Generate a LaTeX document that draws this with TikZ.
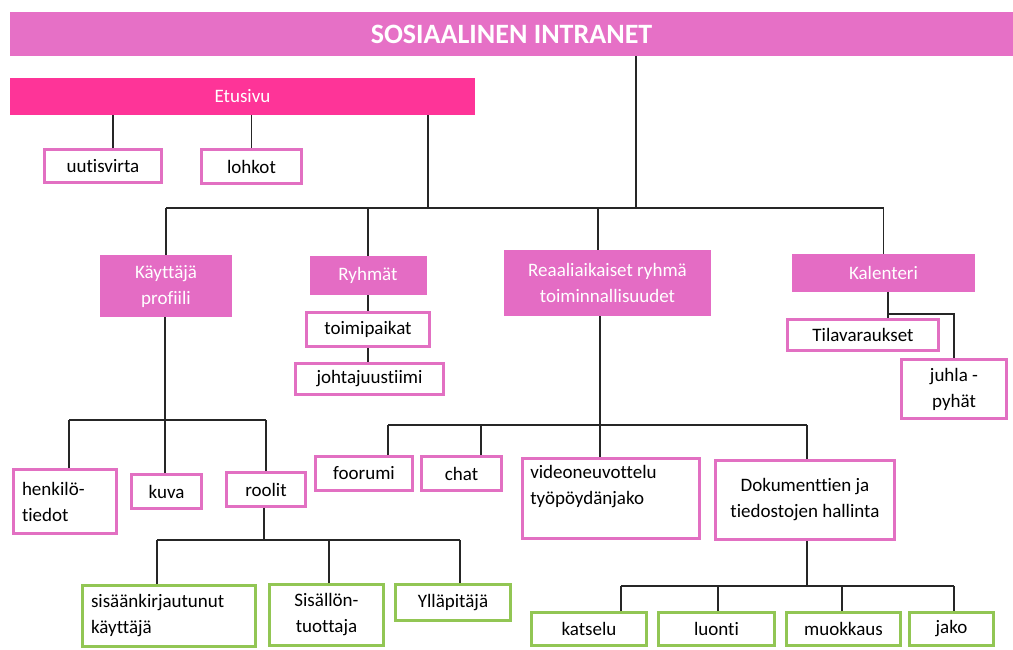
\documentclass[tikz,border=0pt]{standalone}
\usepackage{fontspec}
\setmainfont{Carlito}[Ligatures=NoCommon]
\usepackage{tikz}
\usetikzlibrary{positioning}
\definecolor{iTitle}{RGB}{230,112,198}
\definecolor{iHot}{RGB}{254,52,152}
\definecolor{iFill}{RGB}{228,108,196}
\definecolor{iLine}{RGB}{226,112,194}
\definecolor{iGreen}{RGB}{146,198,84}
\tikzset{
  head/.style={rectangle, fill=iTitle, text=white, font=\fontsize{28}{31}\selectfont\bfseries,
               inner sep=0pt},
  topbar/.style={rectangle, fill=iHot, text=white, font=\fontsize{19}{22}\selectfont,
                 inner sep=0pt},
  pbox/.style={rectangle, fill=iFill, text=white, align=center,
               font=\fontsize{19}{26}\selectfont, inner sep=0pt},
  wbox/.style={rectangle, draw=iLine, line width=2.8pt, fill=white, align=center,
               font=\fontsize{19}{26}\selectfont, inner sep=0pt},
  gbox/.style={wbox, draw=iGreen},
  edge/.style={draw=black!85, line width=1.2pt},
}
\begin{document}
\begin{tikzpicture}[x=1pt,y=-1pt]
  \useasboundingbox[fill=white] (0,0) rectangle (1013,650);

  % top level
  \node[head, minimum width=1003, minimum height=44] (title) at (511.5,34) {SOSIAALINEN INTRANET};
  \node[topbar, minimum width=465, minimum height=37] (etu) at (242.5,96.5) {Etusivu};
  \node[wbox, minimum width=117, minimum height=33] (uutis) at (103,166) {uutisvirta};
  \node[wbox, minimum width=100, minimum height=34] (lohkot) at (251.5,166.5) {lohkot};

  % main sections
  \node[pbox, minimum width=132, minimum height=62] (prof) at (166,286) {Käyttäjä\\profiili};
  \node[pbox, minimum width=117, minimum height=39] (ryhmat) at (368,275.5) {Ryhmät};
  \node[pbox, minimum width=207, minimum height=66] (reaali) at (607.5,283) {Reaaliaikaiset ryhmä\\toiminnallisuudet};
  \node[pbox, minimum width=183, minimum height=38] (kal) at (883.5,273) {Kalenteri};

  % Ryhmät and Kalenteri children
  \node[wbox, minimum width=123, minimum height=34] (toimi) at (368,329.5) {toimipaikat};
  \node[wbox, minimum width=148, minimum height=31] (johto) at (369.5,379) {johtajuustiimi};
  \node[wbox, minimum width=151, minimum height=31] (tila) at (863,335) {Tilavaraukset};
  \node[wbox, minimum width=105, minimum height=59] (juhla) at (954,389) {juhla -\\pyhät};

  % profile children
  \node[wbox, minimum width=103, minimum height=64, align=left, text width=86] (henk) at (65,501.5) {henkilö-\\tiedot};
  \node[wbox, minimum width=70, minimum height=34] (kuva) at (166.5,491.5) {kuva};
  \node[wbox, minimum width=79, minimum height=34] (roolit) at (266,489.5) {roolit};
  \node[gbox, minimum width=173, minimum height=61, align=left, text width=156] (sisaan) at (169,616) {sisäänkirjautunut\\käyttäjä};
  \node[gbox, minimum width=114, minimum height=61] (tuottaja) at (326.5,615) {Sisällön-\\tuottaja};
  \node[gbox, minimum width=115, minimum height=36] (yllapito) at (453,602.5) {Ylläpitäjä};

  % real-time children
  \node[wbox, minimum width=97, minimum height=34] (foorumi) at (364,473.5) {foorumi};
  \node[wbox, minimum width=80, minimum height=34] (chat) at (461.5,473.5) {chat};
  \node[wbox, minimum width=177, minimum height=80] (video) at (611,498.5) {};
  \node[font=\fontsize{19}{26}\selectfont, align=left, anchor=north west, inner sep=0pt]
       (videotxt) at ([xshift=9,yshift=-8]video.north west) {videoneuvottelu\\työpöydänjako};
  \node[wbox, minimum width=179, minimum height=79] (dok) at (805,500) {Dokumenttien ja\\tiedostojen hallinta};
  \node[gbox, minimum width=115, minimum height=33] (katselu) at (589,629) {katselu};
  \node[gbox, minimum width=116, minimum height=33] (luonti) at (716.5,629) {luonti};
  \node[gbox, minimum width=114, minimum height=33] (muokkaus) at (843.5,629) {muokkaus};
  \node[gbox, minimum width=84, minimum height=33] (jako) at (951.5,629) {jako};

  % bus lines
  \coordinate (busA) at (636,208);
  \coordinate (busB) at (165,420);
  \coordinate (busC) at (264,540);
  \coordinate (busD) at (600,425);
  \coordinate (busE) at (807,586);
  \coordinate (kalB) at (888,314);

  % title and Etusivu
  \draw[edge] (title.south -| busA) -- (busA);
  \draw[edge] ([xshift=10]uutis.north) -- ([xshift=10]uutis.north |- etu.south);
  \draw[edge] (lohkot.north) -- (lohkot.north |- etu.south);
  \draw[edge] ([xshift=185.5]etu.south) -- ([xshift=185.5]etu.south |- busA);
  \draw[edge] (prof.north |- busA) -- (kal.north |- busA);
  \draw[edge] (prof.north) -- (prof.north |- busA);
  \draw[edge] (ryhmat.north) -- (ryhmat.north |- busA);
  \draw[edge] ([xshift=-9.5]reaali.north) -- ([xshift=-9.5]reaali.north |- busA);
  \draw[edge] (kal.north) -- (kal.north |- busA);

  % Ryhmät and Kalenteri
  \draw[edge] (ryhmat.south) -- (toimi.north -| ryhmat.south);
  \draw[edge] (toimi.south) -- (johto.north -| toimi.south);
  \draw[edge] (kal.south -| kalB) -- (tila.north -| kalB);
  \draw[edge] (kalB) -| (juhla.north);

  % profile
  \draw[edge] (prof.south -| busB) -- (busB);
  \draw[edge] ([xshift=4]henk.north |- busB) -- (roolit.north |- busB);
  \draw[edge] ([xshift=4]henk.north) -- ([xshift=4]henk.north |- busB);
  \draw[edge] (kuva.north -| busB) -- (busB);
  \draw[edge] (roolit.north) -- (roolit.north |- busB);
  \draw[edge] (roolit.south -| busC) -- (busC);
  \draw[edge] ([xshift=-12]sisaan.north |- busC) -- ([xshift=7]yllapito.north |- busC);
  \draw[edge] ([xshift=-12]sisaan.north) -- ([xshift=-12]sisaan.north |- busC);
  \draw[edge] ([xshift=2.5]tuottaja.north) -- ([xshift=2.5]tuottaja.north |- busC);
  \draw[edge] ([xshift=7]yllapito.north) -- ([xshift=7]yllapito.north |- busC);

  % real-time
  \draw[edge] (reaali.south -| busD) -- (busD);
  \draw[edge] ([xshift=24]foorumi.north |- busD) -- ([xshift=2]dok.north |- busD);
  \draw[edge] ([xshift=24]foorumi.north) -- ([xshift=24]foorumi.north |- busD);
  \draw[edge] ([xshift=19.5]chat.north) -- ([xshift=19.5]chat.north |- busD);
  \draw[edge] (video.north -| busD) -- (busD);
  \draw[edge] ([xshift=2]dok.north) -- ([xshift=2]dok.north |- busD);
  \draw[edge] (dok.south -| busE) -- (busE);
  \draw[edge] ([xshift=32]katselu.north |- busE) -- ([xshift=2.5]jako.north |- busE);
  \draw[edge] ([xshift=32]katselu.north) -- ([xshift=32]katselu.north |- busE);
  \draw[edge] ([xshift=1.5]luonti.north) -- ([xshift=1.5]luonti.north |- busE);
  \draw[edge] ([xshift=-1.5]muokkaus.north) -- ([xshift=-1.5]muokkaus.north |- busE);
  \draw[edge] ([xshift=2.5]jako.north) -- ([xshift=2.5]jako.north |- busE);
\end{tikzpicture}
\end{document}
